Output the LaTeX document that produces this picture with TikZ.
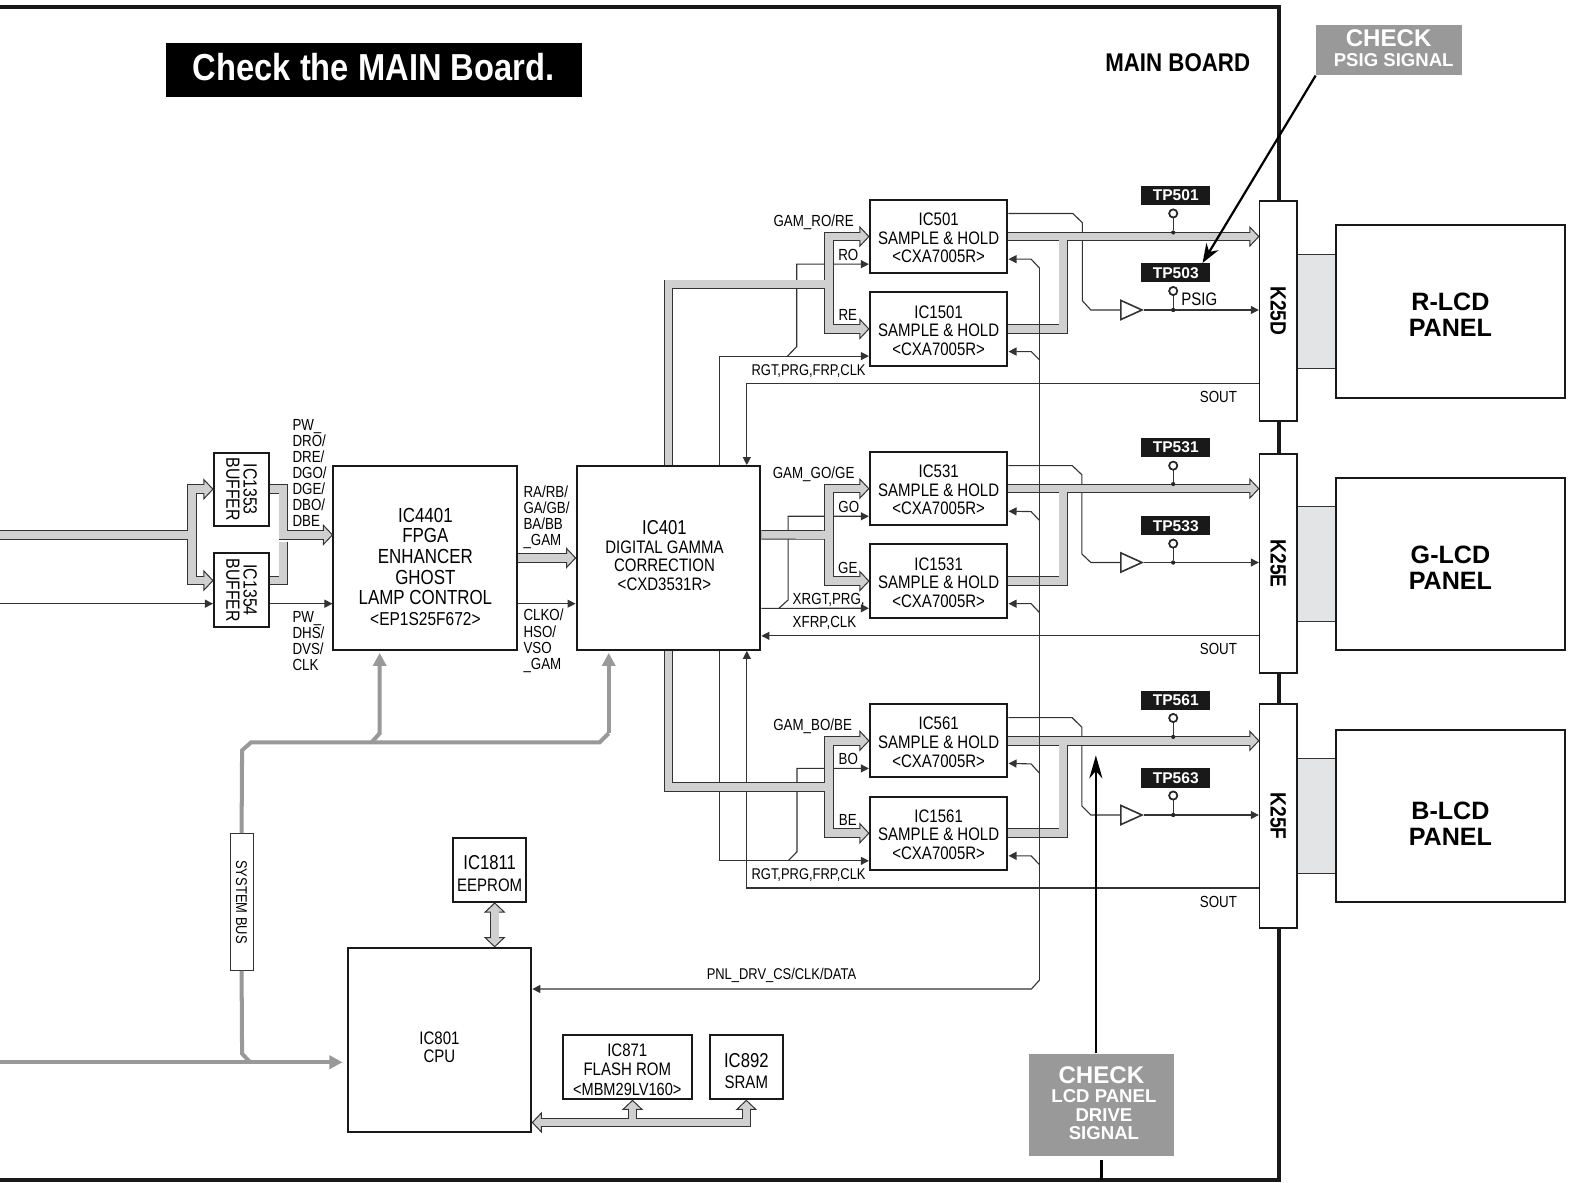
\documentclass[tikz,border=0pt]{standalone}
\usepackage{fontspec}
\usetikzlibrary{arrows.meta,shapes.geometric,calc}
\setmainfont{Liberation Sans}
\newfontfamily\nar[FakeStretch=0.83]{Liberation Sans}
\newfontfamily\narb[FakeStretch=0.87]{Liberation Sans}
\newcommand{\fsz}[2]{\fontsize{#1}{#2}\selectfont}
\newcommand{\dnr}[1]{\rule{0pt}{#1pt}}
\newcommand{\upr}[1]{\rule[-#1pt]{0pt}{#1pt}}
\definecolor{wirec}{HTML}{333333}
\definecolor{busfill}{HTML}{D0D0D0}
\definecolor{sysc}{HTML}{999999}
\definecolor{chkc}{HTML}{999999}
\definecolor{congray}{HTML}{E3E4E5}
\tikzset{
  icbox/.style={draw=black!90,line width=2pt,fill=white,inner sep=0pt,align=center,font=\nar\fsz{18}{18.5}},
  kbox/.style={draw=black!90,line width=1.6pt,fill=white,inner sep=0pt,minimum width=37pt,minimum height=219pt},
  panelbox/.style={draw=black!90,line width=2pt,fill=white,inner sep=0pt,minimum width=228pt,minimum height=172pt,align=center,font=\bfseries\fsz{25}{26}},
  lbl/.style={inner sep=0pt,font=\nar\fsz{16}{16},align=left},
  tplabel/.style={fill=black!90,text=white,inner sep=0pt,minimum width=69pt,minimum height=19pt,font=\bfseries\fsz{15.5}{16}},
  tpc/.style={circle,draw=black!85,fill=white,line width=1.6pt,inner sep=0pt,minimum size=8pt},
  tpdot/.style={circle,fill=black!85,inner sep=0pt,minimum size=4pt},
  bufs/.style={isosceles triangle,isosceles triangle stretches,draw=wirec,line width=1.6pt,fill=white,inner sep=0pt,minimum height=21pt,minimum width=19pt,anchor=apex},
  wire/.style={draw=wirec,line width=1.1pt},
  ar/.style={wire,-{Triangle[length=8pt,width=8pt]}},
  sysb/.style={draw=sysc,line width=4pt},
  sysa/.style={sysb,-{Triangle[length=13pt,width=13pt]}},
  headst/.style={draw=wirec,fill=busfill,line width=1pt,miter limit=10},
  chkbox/.style={fill=chkc,text=white,inner sep=0pt,align=center,font=\bfseries\fsz{18.5}{18.5}},
  blk/.style={draw=black,line width=2.2pt},
  bigic/.style={icbox,minimum width=183pt,minimum height=183pt},
  sh/.style={icbox,minimum width=137pt,minimum height=73pt},
  bufic/.style={icbox,minimum width=73pt,minimum height=55pt,rotate=-90,font=\nar\fsz{19}{17}},
  ktext/.style={rotate=-90,font=\narb\bfseries\fsz{22}{22}},
}
\newcommand{\bushead}[2]{\path[headst,shift={(#1)},rotate=#2] (0,0) -- (-9,9.5) -- (-9,-9.5) -- cycle;}
\newcommand{\allbus}[1]{%
 \begin{scope}[every path/.style={#1}]
  % input and buffers
  \path (0,532.6) -| (191,510) |- ([xshift=-6pt]b1353.south);
  \path (191,532.6) |- ([shift={(-6pt,9.5pt)}]b1354.south);
  \path (b1353.north) -| (282,510) |- ([shift={(-6pt,23pt)}]IC4401.west);
  \path ([yshift=9.5pt]b1354.north) -| (282,540);
  \path (IC4401.east) -- ([xshift=-6pt]IC401.west);
  % R
  \path (IC401.north) |- (825.5,283);
  \path ([xshift=-6pt]IC501.west) -| (825.5,300) |- ([xshift=-6pt]IC1501.west);
  \path (IC501.east) -- ([xshift=-6pt]IC501.east -| K25D.west);
  \path (IC1501.east) -| (1058.5,236);
  % G
  \path ([yshift=23pt]IC401.east) -- (825.5,532.6);
  \path ([xshift=-6pt]IC531.west) -| (825.5,530) |- ([xshift=-6pt]IC1531.west);
  \path (IC531.east) -- ([xshift=-6pt]IC531.east -| K25E.west);
  \path (IC1531.east) -| (1058.5,486.5);
  % B
  \path (IC401.south) |- (825.5,783.7);
  \path ([xshift=-6pt]IC561.west) -| (825.5,780) |- ([xshift=-6pt]IC1561.west);
  \path (IC561.east) -- ([xshift=-6pt]IC561.east -| K25F.west);
  \path (IC1561.east) -| (1058.5,737.5);
  % memories
  \path ([shift={(6pt,-82.5pt)}]IC801.east) -| ([yshift=-6pt]IC892.south);
  \path (629.7,1117) -- ([shift={(5.2pt,-6pt)}]IC871.south);
  \path ([shift={(5pt,-6pt)}]IC1811.south) -- ([shift={(5pt,6pt)}]IC801.north -| IC1811.south);
 \end{scope}}
\begin{document}
\begin{tikzpicture}[x=1pt,y=-1pt]
\useasboundingbox (0,0) rectangle (1568,1177);
\fill[white] (0,0) rectangle (1568,1177);
% frame
\draw[black!90,line width=4pt] (-5,7) -- (1273,7) -- (1273,1175) -- (-5,1175);
% connectors between K and panel
\draw[fill=congray,draw=wirec,line width=.8pt] (1291,253) rectangle (1330,367);
\draw[fill=congray,draw=wirec,line width=.8pt] (1291,504) rectangle (1330,619);
\draw[fill=congray,draw=wirec,line width=.8pt] (1291,755) rectangle (1330,870);
% title and labels
\node[fill=black,text=white,inner sep=0pt,minimum width=414pt,minimum height=54pt,font=\narb\bfseries\fsz{37.4}{37}] (title) at (372,70) {Check the MAIN Board.\upr{7}};
\node[inner sep=0pt,font=\narb\bfseries\fsz{25.5}{26}] (mainb) at (1172.5,62) {MAIN BOARD};
% IC boxes
\node[bigic,font=\nar\fsz{20.3}{20.5}] (IC4401) at (423.5,555.5) {\dnr{31.5}IC4401\\FPGA\\ENHANCER\\GHOST\\LAMP CONTROL\\\fsz{18.6}{20.5}<EP1S25F672>};
\node[bigic] (IC401) at (665.5,555.5) {\hspace*{-8pt}\fsz{20}{18.5}IC401\\\hspace*{-8pt}\fsz{18}{18.5}DIGITAL GAMMA\\\hspace*{-8pt}CORRECTION\\\hspace*{-8pt}<CXD3531R>\upr{5}};
\node[bufic] (b1353) at (240.5,487) {IC1353\\BUFFER};
\node[bufic] (b1354) at (240.5,587.5) {IC1354\\BUFFER};
\foreach \nm/\yy in {IC501/235.5,IC1501/327.5,IC531/486.5,IC1531/578.5,IC561/737.5,IC1561/829.5}{
  \node[sh] (\nm) at (934.5,\yy) {\dnr{15.5}\nm\\SAMPLE \& HOLD\\<CXA7005R>};
}
\node[kbox] (K25D) at (1272.5,309.5) {};
\node[kbox,minimum height=218pt] (K25E) at (1272.5,561) {};
\node[kbox,minimum height=223pt] (K25F) at (1272.5,812.5) {};
\node[ktext] (k1t) at (K25D) {K25D};
\node[ktext] (k2t) at (K25E) {K25E};
\node[ktext] (k3t) at (K25F) {K25F};
\node[panelbox] (RP) at (1444,310) {\dnr{24}R-LCD\\PANEL};
\node[panelbox,minimum height=171pt] (GP) at (1444,561.5) {\dnr{24}G-LCD\\PANEL};
\node[panelbox,minimum height=171pt] (BP) at (1444,812.5) {\dnr{32}B-LCD\\PANEL};
\node[icbox,minimum width=73pt,minimum height=64pt] (IC1811) at (487.5,866) {\dnr{21}\fsz{20}{18.5}IC1811\\[3pt]\fsz{18}{18.5}EEPROM};
\node[bigic] (IC801) at (437.5,1035) {\dnr{28}IC801\\CPU};
\node[icbox,minimum width=128.5pt,minimum height=64pt,font=\nar\fsz{18}{19.5}] (IC871) at (624.5,1062.5) {\dnr{17}IC871\\FLASH ROM\\\fsz{17.5}{19.5}<MBM29LV160>};
\node[icbox,minimum width=73pt,minimum height=64pt] (IC892) at (743,1062.5) {\dnr{22}\fsz{20}{18.5}IC892\\[2pt]\fsz{18}{18.5}SRAM};
\node[draw=wirec,line width=1pt,fill=white,minimum width=136pt,minimum height=23pt,inner sep=0pt,rotate=-90,font=\nar\fsz{15.5}{16}] (sysbus) at (240.5,898) {SYSTEM BUS};
% buffers, test points
\foreach \nm/\yy in {buA/308.6,buB/560,buC/811.4}{\node[bufs,shape border rotate=0] (\nm) at (1139,\yy) {};}
\foreach \nm/\tx/\yy in {tpA/TP501/194.5,tpB/TP503/271.5,tpC/TP531/445.5,tpD/TP533/523.5,tpE/TP561/697.5,tpF/TP563/774.5}{
  \node[tplabel] (\nm) at (1170.5,\yy) {\tx};}
\foreach \nm/\yy in {cA/212.5,cB/289.7,cC/463.6,cD/541.2,cE/714.8,cF/792}{\node[tpc] (\nm) at (1168,\yy) {};}
\foreach \nm/\yy in {dA/231.5,dB/308.6,dC/482,dD/560,dE/733.7,dF/811.4}{\node[tpdot] (\nm) at (1168,\yy) {};}
% thin wires R
\draw[ar] ([xshift=50.5pt]IC401.north) |- ([yshift=-27pt]IC1501.west);
\draw[ar] (784,354.5) -- (793.2,345.1) -- (793.2,263) -- ([yshift=-27.5pt]IC501.west);
\draw[wire] ([yshift=23pt]IC501.east) -- (1068,212.5) -- (1077.5,221.7) -- (1077.5,299.4) -- (1086,308.6) -- (buA.west);
\draw[ar] (buA.apex) -- (buA.apex -| K25D.west);
\draw[ar] ([yshift=-72pt]K25D.west) -| ([xshift=78pt]IC401.north);
% thin wires G
\draw[ar] ([yshift=-50.2pt]IC401.east) -- ([yshift=-27pt]IC1531.west);
\draw[ar] (775.4,605.6) -- (784.6,597.3) -- (784.6,514) -- ([yshift=-27.5pt]IC531.west);
\draw[wire] ([yshift=23pt]IC531.east) -- (1067.4,463.5) -- (1077,472.6) -- (1077,551.5) -- (1086,560) -- (buB.west);
\draw[ar] (buB.apex) -- (buB.apex -| K25E.west);
\draw[ar] ([yshift=-72pt]K25E.west) -- ([yshift=-77.5pt]IC401.east);
% thin wires B
\draw[ar] ([xshift=50.5pt]IC401.south) |- ([yshift=-27.5pt]IC1561.west);
\draw[ar] (784.6,857) -- (793.4,848) -- (793.4,765) -- ([yshift=-27.5pt]IC561.west);
\draw[wire] ([yshift=23pt]IC561.east) -- (1067.4,714.5) -- (1077,724) -- (1077,802.4) -- (1086,811.4) -- (buC.west);
\draw[ar] (buC.apex) -- (buC.apex -| K25F.west);
\draw[ar] ([yshift=-71.5pt]K25F.west) -| ([xshift=78pt]IC401.south);
% thin wires left
\draw[ar] (0,601) -- (0,601 -| b1354.south);
\draw[ar] (b1354.north |- 0,601) -- ([yshift=-45.5pt]IC4401.west);
\draw[ar] ([yshift=-45.5pt]IC4401.east) -- ([yshift=-45.5pt]IC401.west);
% buses
\allbus{draw=wirec,line width=9.4pt}
\bushead{b1353.south}{0}
\bushead{$(b1354.south)+(0,-9.5)$}{0}
\bushead{$(IC4401.west)+(0,-23)$}{0}
\bushead{IC401.west}{0}
\bushead{IC501.west}{0}
\bushead{IC1501.west}{0}
\bushead{IC531.west}{0}
\bushead{IC1531.west}{0}
\bushead{IC561.west}{0}
\bushead{IC1561.west}{0}
\bushead{IC501.east -| K25D.west}{0}
\bushead{IC531.east -| K25E.west}{0}
\bushead{IC561.east -| K25F.west}{0}
\bushead{$(IC801.east)+(0,82.5)$}{180}
\bushead{$(IC871.south)+(5.2,0)$}{90}
\bushead{IC892.south}{90}
\bushead{$(IC1811.south)+(5,0)$}{90}
\bushead{$(IC801.north -| IC1811.south)+(5,0)$}{-90}
\allbus{draw=busfill,line width=7.6pt}
% wires crossing over the buses
\draw[wire] (1035,267) -- (1035,975.6);
% panel drive line
\draw[ar] (1035,975.6) -- (1026.8,984.6) -- ([yshift=50.4pt]IC801.east);
\draw[ar] (1035,267) -- (1026.5,258) -- ([yshift=-22.5pt]IC501.east);
\draw[ar] (1035,358.4) -- (1026.5,350) -- ([yshift=-22.5pt]IC1501.east);
\draw[ar] (1035,518.3) -- (1026.5,509.3) -- ([yshift=-22.5pt]IC531.east);
\draw[ar] (1035,610) -- (1026.5,601) -- ([yshift=-22.5pt]IC1531.east);
\draw[ar] (1035,769.9) -- (1026.5,760.5) -- ([yshift=-22.5pt]IC561.east);
\draw[ar] (1035,861) -- (1026.5,852) -- ([yshift=-22.5pt]IC1561.east);
% test point stubs
\foreach \a/\b in {cA/dA,cB/dB,cC/dC,cD/dD,cE/dE,cF/dF}{\draw[wire] (\a) -- (\b);\node[tpc] at (\a) {};\node[tpdot] at (\b) {};}
% system bus
\draw[sysb] (sysbus.west) -- (241,747) -- (250,739) -- (597,739) -- (606,730);
\draw[sysa] (606,730) -- ([shift={(-59.5pt,-2pt)}]IC401.south);
\draw[sysa] (370,739) -- (378,730) -- ([shift={(-45.5pt,-2pt)}]IC4401.south);
\draw[sysb] (sysbus.east) -- (241,1049) -- (249,1057.5);
\draw[sysa] (0,1057.5) -- ([shift={(-4pt,-22.5pt)}]IC801.west);
% check boxes
\node[chkbox,minimum width=145pt,minimum height=50pt] (chkA) at (1382.5,50) {\fsz{24}{19}CHECK\\[2pt]\fsz{18.5}{19}\hspace*{10pt}PSIG SIGNAL\upr{4}};
\node[chkbox,minimum width=145pt,minimum height=102pt] (chkB) at (1096.5,1100) {\fsz{24}{21}CHECK\\\fsz{18.5}{18.5}\hspace*{5pt}LCD PANEL\\\hspace*{5pt}DRIVE\\\hspace*{5pt}SIGNAL\upr{3}};
\coordinate (chkT) at (1091,752);
\coordinate (chkE) at (1096.5,1175);
\draw[blk,-{Stealth[length=23pt,width=13pt]}] ([xshift=-5.5pt]chkB.north) -- (chkT);
\draw[blk] ([yshift=-4pt]chkB.south) -- (chkE);
\draw[blk,-{Stealth[length=19pt,width=14pt]}] (chkA.south west) -- ([xshift=-8pt]tpB.north east);
% labels
\node[lbl,anchor=west] (l1) at (291,471) {PW\_\\DRO/\\DRE/\\DGO/\\DGE/\\DBO/\\DBE};
\node[lbl,anchor=west] (l2) at (291,638) {PW\_\\DHS/\\DVS/\\CLK};
\node[lbl,anchor=west] (l3) at (521,515) {RA/RB/\\GA/GB/\\BA/BB\\\_GAM};
\node[lbl,anchor=west] (l4) at (521,638) {CLKO/\\HSO/\\VSO\\\_GAM};
\node[lbl] (l5) at (810,221) {GAM\_RO/RE};
\node[lbl] (l6) at (844.5,254) {RO};
\node[lbl] (l7) at (844,314) {RE};
\node[lbl,font=\nar\fsz{15.5}{16}] (l8) at (805,369) {RGT,PRG,FRP,CLK};
\node[lbl] (l9) at (1213,395) {SOUT};
\node[lbl] (l10) at (810,472) {GAM\_GO/GE};
\node[lbl] (l11) at (845,505) {GO};
\node[lbl] (l12) at (844,565) {GE};
\node[lbl,anchor=west] (l13) at (789,597) {XRGT,PRG,};
\node[lbl,anchor=west] (l14) at (789,620) {XFRP,CLK};
\node[lbl] (l15) at (1213,646) {SOUT};
\node[lbl] (l16) at (809,723) {GAM\_BO/BE};
\node[lbl] (l17) at (844.5,756) {BO};
\node[lbl] (l18) at (844,816) {BE};
\node[lbl,font=\nar\fsz{15.5}{16}] (l19) at (805,871) {RGT,PRG,FRP,CLK};
\node[lbl] (l20) at (1213,898) {SOUT};
\node[lbl,font=\nar\fsz{15.5}{16}] (l21) at (778,971) {PNL\_DRV\_CS/CLK/DATA};
\node[lbl,anchor=west,font=\nar\fsz{18}{18}] (l22) at (1176,298) {PSIG};
\end{tikzpicture}
\end{document}
